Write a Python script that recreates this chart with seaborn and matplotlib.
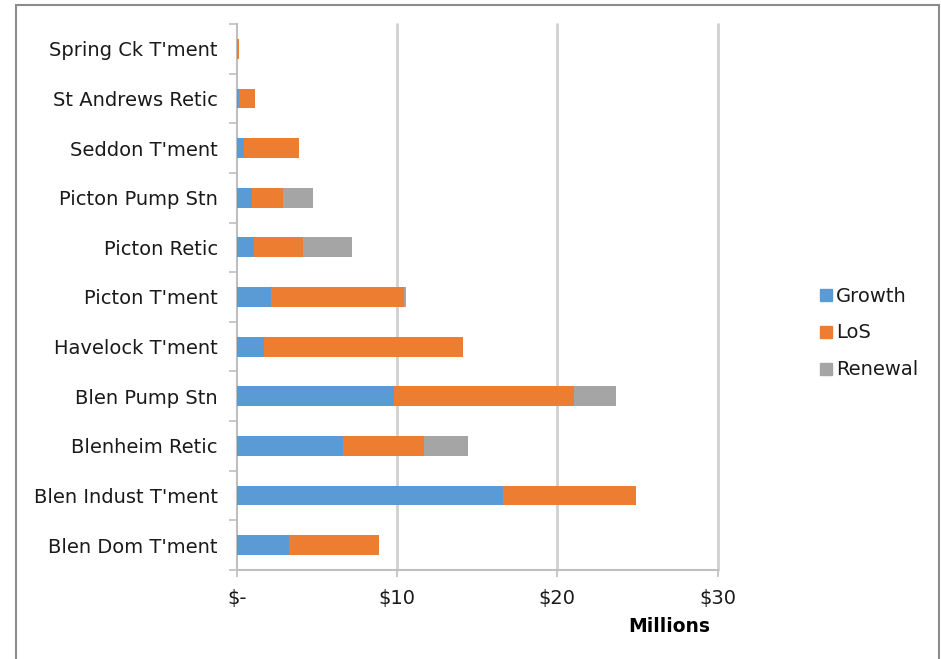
import matplotlib
matplotlib.use("Agg")
import matplotlib.pyplot as plt
from matplotlib.lines import Line2D
from matplotlib.patches import Rectangle
from matplotlib.ticker import FixedLocator, FuncFormatter
import numpy as np
import pandas as pd
import seaborn as sns

# Capital spend by project, $ millions
projects = [
    "Spring Ck T'ment",
    "St Andrews Retic",
    "Seddon T'ment",
    "Picton Pump Stn",
    "Picton Retic",
    "Picton T'ment",
    "Havelock T'ment",
    "Blen Pump Stn",
    "Blenheim Retic",
    "Blen Indust T'ment",
    "Blen Dom T'ment",
]
growth = [0.0, 0.17, 0.47, 0.95, 1.07, 2.13, 1.72, 9.80, 6.62, 16.64, 3.26]
los = [0.12, 1.00, 3.43, 1.95, 3.08, 8.30, 12.37, 11.24, 5.08, 8.28, 5.65]
renewal = [0.0, 0.0, 0.0, 1.87, 3.05, 0.12, 0.0, 2.63, 2.76, 0.0, 0.0]

series_names = ["Growth", "LoS", "Renewal"]
series_colors = ["#5B9BD5", "#ED7D31", "#A5A5A5"]
x_ticks = [0, 10, 20, 30]

df = pd.DataFrame({"project": projects, "Growth": growth, "LoS": los, "Renewal": renewal})
df["g_end"] = df["Growth"]
df["l_end"] = df["Growth"] + df["LoS"]
df["r_end"] = df["l_end"] + df["Renewal"]

sns.set_theme(style="white")
plt.rcParams["font.family"] = ["DejaVu Sans"]

fig = plt.figure(figsize=(9.41, 6.59), dpi=100)
ax = fig.add_axes([236.7 / 941, 89 / 659, 480.8 / 941, 546 / 659])

# stacked bars drawn back to front from cumulative totals
for col, color in zip(["r_end", "l_end", "g_end"], series_colors[::-1]):
    sns.barplot(data=df, x=col, y="project", order=projects, orient="h",
                color=color, width=0.4, saturation=1, ax=ax, zorder=3,
                linewidth=0)

ax.set_xlim(0, 30)
ax.set_ylim(len(projects) - 0.5, -0.5)
ax.set_xlabel("")
ax.set_ylabel("")

# vertical gridlines
ax.xaxis.set_major_locator(FixedLocator(x_ticks))
for v in x_ticks[1:]:
    ax.axvline(v, color="#D0D0D0", lw=2.0, zorder=1, clip_on=False)

ax.xaxis.set_major_formatter(FuncFormatter(lambda v, p: "$-" if v == 0 else f"${v:.0f}"))

for s in ["top", "right"]:
    ax.spines[s].set_visible(False)
for s in ["left", "bottom"]:
    ax.spines[s].set_color("#BFBFBF")
    ax.spines[s].set_linewidth(1.5)

ax.tick_params(axis="x", which="major", length=5, width=1.2, color="#BFBFBF",
               direction="out", labelsize=14, pad=9, labelcolor="#1a1a1a", bottom=True)
ax.set_yticks(range(len(projects)))
ax.set_yticks(np.arange(-0.5, len(projects), 1.0), minor=True)
ax.tick_params(axis="y", which="major", length=0, labelsize=14, pad=13.5, labelcolor="#1a1a1a")
ax.tick_params(axis="y", which="minor", length=6, width=1.2, color="#BFBFBF",
               direction="out", left=True)

fig.text(669 / 941, 1 - 627 / 659, "Millions", ha="center", va="center",
         fontsize=13.5, fontweight="bold", color="black")

handles = [Line2D([], [], marker="s", linestyle="none", markersize=8,
                  markerfacecolor=c, markeredgecolor=c) for c in series_colors]
fig.legend(handles, series_names, loc="center left",
           bbox_to_anchor=(812 / 941, 1 - 333 / 659), frameon=False,
           fontsize=14, handlelength=0.6, handletextpad=0.25, labelspacing=0.92,
           borderaxespad=0, labelcolor="#1a1a1a")

# outer chart border
fig.add_artist(Rectangle((16 / 941, -0.05), (939 - 16) / 941, (1 - 4.5 / 659) + 0.05,
                         transform=fig.transFigure, fill=False,
                         edgecolor="#8C8C8C", lw=1.5))

fig.savefig("out.png", dpi=100)
